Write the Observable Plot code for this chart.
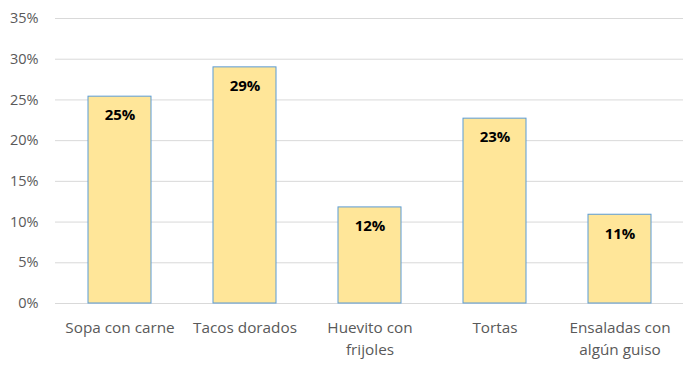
<!DOCTYPE html>
<html>
<head>
<meta charset="utf-8">
<script src="https://cdn.jsdelivr.net/npm/d3@7"></script>
<script src="https://cdn.jsdelivr.net/npm/@observablehq/plot@0.6"></script>
<style>
  html, body { margin: 0; padding: 0; background: #fff; }
</style>
</head>
<body>
<div id="chart"></div>
<script>
const categories = ["Sopa con carne", "Tacos dorados", "Huevito con frijoles", "Tortas", "Ensaladas con algún guiso"];
const tickLabels = ["Sopa con carne", "Tacos dorados", "Huevito con\nfrijoles", "Tortas", "Ensaladas con\nalgún guiso"];
const values = [0.254, 0.290, 0.118, 0.227, 0.109];
const valueLabels = ["25%", "29%", "12%", "23%", "11%"];
const yTicks = [0, 0.05, 0.10, 0.15, 0.20, 0.25, 0.30, 0.35];

const data = categories.map((c, i) => ({cat: c, value: values[i], label: valueLabels[i]}));
const labelMap = new Map(categories.map((c, i) => [c, tickLabels[i]]));

const chart = Plot.plot({
  width: 698,
  height: 367,
  marginLeft: 55,
  marginRight: 15,
  marginTop: 18,
  marginBottom: 64,
  style: {fontFamily: "'Open Sans', 'Noto Sans', sans-serif", background: "#fff"},
  x: {domain: categories, paddingInner: 0.5, paddingOuter: 0.25, label: null},
  y: {domain: [0, 0.35], label: null},
  marks: [
    Plot.gridY(yTicks, {stroke: "#d9d9d9", strokeOpacity: 1}),
    Plot.barY(data, {x: "cat", y: "value", fill: "#FFE699", stroke: "#5B9BD5", strokeWidth: 1}),
    Plot.text(data, {x: "cat", y: "value", text: "label", dy: 19, fontWeight: "bold", fontSize: 15, fill: "#000"}),
    Plot.axisY(yTicks, {tickSize: 0, tickPadding: 17, tickFormat: d => Math.round(d * 100) + "%", fontSize: 14.5, fill: "#595959"}),
    Plot.axisX({tickSize: 0, tickPadding: 14, tickFormat: d => labelMap.get(d), fontSize: 15.3, fill: "#595959", lineHeight: 1.45})
  ]
});
document.getElementById("chart").appendChild(chart);
</script>
</body>
</html>
